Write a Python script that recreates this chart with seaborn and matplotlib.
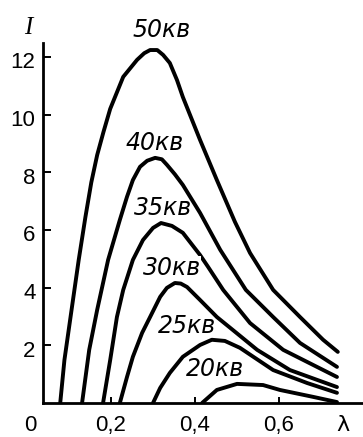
import pandas as pd
import seaborn as sns
import matplotlib.pyplot as plt
from matplotlib.transforms import ScaledTranslation


CURVE_NAMES = ["50кв", "40кв", "35кв", "30кв", "25кв", "20кв"]

# wavelength / intensity, one pair per tube voltage
lam_50 = [0.079, 0.089, 0.106, 0.123, 0.139, 0.153, 0.167, 0.182, 0.198, 0.229, 0.262, 0.279,
          0.293, 0.310, 0.324, 0.340, 0.357, 0.371, 0.412, 0.452, 0.495, 0.531, 0.586,
          0.650, 0.705, 0.740]
int_50 = [0.0, 1.49, 3.23, 4.96, 6.45, 7.65, 8.60, 9.40, 10.20, 11.31, 11.90, 12.13,
          12.24, 12.24, 12.07, 11.79, 11.20, 10.61, 9.12, 7.73, 6.28, 5.20, 3.92,
          2.98, 2.19, 1.77]

lam_40 = [0.131, 0.148, 0.167, 0.193, 0.221, 0.238, 0.252, 0.269, 0.286, 0.305, 0.321,
          0.333, 0.352, 0.371, 0.412, 0.460, 0.521, 0.586, 0.650, 0.738]
int_40 = [0.0, 1.84, 3.23, 4.96, 6.35, 7.15, 7.73, 8.19, 8.40, 8.50, 8.45,
          8.26, 7.93, 7.56, 6.59, 5.31, 3.92, 2.98, 2.08, 1.25]

lam_35 = [0.181, 0.198, 0.214, 0.229, 0.252, 0.276, 0.300, 0.319, 0.345, 0.371,
          0.412, 0.431, 0.467, 0.531, 0.610, 0.738]
int_35 = [0.0, 1.49, 2.98, 3.92, 4.96, 5.65, 6.07, 6.24, 6.14, 5.90,
          5.13, 4.72, 3.92, 2.77, 1.84, 0.90]

lam_30 = [0.221, 0.238, 0.252, 0.274, 0.293, 0.317, 0.333, 0.352, 0.366, 0.381, 0.412,
          0.452, 0.490, 0.548, 0.626, 0.738]
int_30 = [0.0, 0.90, 1.60, 2.43, 2.98, 3.68, 3.99, 4.16, 4.14, 4.02, 3.57,
          2.98, 2.53, 1.84, 1.14, 0.55]

lam_25 = [0.300, 0.317, 0.340, 0.371, 0.412, 0.440, 0.471, 0.507, 0.586, 0.667, 0.738]
int_25 = [0.0, 0.52, 1.04, 1.60, 2.01, 2.19, 2.15, 1.91, 1.14, 0.69, 0.35]

lam_20 = [0.417, 0.452, 0.500, 0.562, 0.602, 0.681, 0.738]
int_20 = [0.0, 0.45, 0.66, 0.62, 0.45, 0.21, 0.03]

# where the curve names sit
label_lam = [0.321, 0.305, 0.324, 0.345, 0.381, 0.448]
label_int = [12.94, 9.02, 6.76, 4.68, 2.67, 1.18]
# the 35 kV curve is interrupted by the "30кв" label in the original
masked_labels = ["30кв"]

XTICKS = [0.2, 0.4, 0.6]
XTICKLABELS = ["0,2", "0,4", "0,6"]
YTICKS = [2, 4, 6, 8, 10, 12]
YTICKLABELS = ["2", "4", "6", "8", "10", "12"]


def build_frame() -> pd.DataFrame:
    lams = [lam_50, lam_40, lam_35, lam_30, lam_25, lam_20]
    ints = [int_50, int_40, int_35, int_30, int_25, int_20]
    parts = []
    for name, lam, inten in zip(CURVE_NAMES, lams, ints):
        parts.append(pd.DataFrame({"lam": lam, "I": inten, "curve": name}))
    return pd.concat(parts, ignore_index=True)


def main() -> None:
    sns.set_style("ticks", {"axes.edgecolor": "black", "text.color": "black",
                            "xtick.color": "black", "ytick.color": "black"})
    plt.rcParams["font.family"] = ["Liberation Sans", "DejaVu Sans"]

    df = build_frame()

    fig = plt.figure(figsize=(3.63, 4.37), dpi=100)
    ax = fig.add_axes([0.1185, 0.078, 0.8815, 0.824])

    sns.lineplot(data=df, x="lam", y="I", units="curve", estimator=None, sort=False,
                 color="black", linewidth=2.8, solid_joinstyle="round",
                 solid_capstyle="round", ax=ax)

    ax.set_xlim(0.038, 0.8)
    ax.set_ylim(0, 12.49)

    for side in ("top", "right"):
        ax.spines[side].set_visible(False)
    for side in ("left", "bottom"):
        ax.spines[side].set_linewidth(2.0)

    ax.set_xticks(XTICKS)
    ax.set_xticklabels(XTICKLABELS)
    ax.set_yticks(YTICKS)
    ax.set_yticklabels(YTICKLABELS)
    ax.tick_params(axis="x", direction="in", length=4, width=1.4, pad=8.6, labelsize=16)
    ax.tick_params(axis="y", direction="in", length=5.5, width=1.4, pad=5.5, labelsize=16)
    shift = ScaledTranslation(0, -2.5 / 72, fig.dpi_scale_trans)
    for lbl in ax.get_yticklabels():
        lbl.set_transform(lbl.get_transform() + shift)
    ax.set_xlabel("")
    ax.set_ylabel("")

    # corner zero and wavelength symbol, in line with the x tick labels
    ax.annotate("0", xy=(0.007, 0), xytext=(0, -8.6), textcoords="offset points",
                ha="center", va="top", fontsize=16, annotation_clip=False)
    ax.annotate("λ", xy=(0.752, 0), xytext=(0, -8.6), textcoords="offset points",
                ha="center", va="top", fontsize=16, family=["DejaVu Sans"],
                annotation_clip=False)
    ax.text(0.002, 13.0, "I", ha="center", va="center", fontsize=18,
            family=["Liberation Serif"], style="italic", clip_on=False)

    for name, x, y in zip(CURVE_NAMES, label_lam, label_int):
        box = None
        if name in masked_labels:
            box = dict(facecolor="white", edgecolor="none", pad=0.3)
        ax.text(x, y, name, ha="center", va="center", fontsize=17, style="italic",
                family=["DejaVu Sans"], clip_on=False, zorder=5, bbox=box)

    fig.savefig("out.png", dpi=100)
    plt.close(fig)


if __name__ == "__main__":
    main()
